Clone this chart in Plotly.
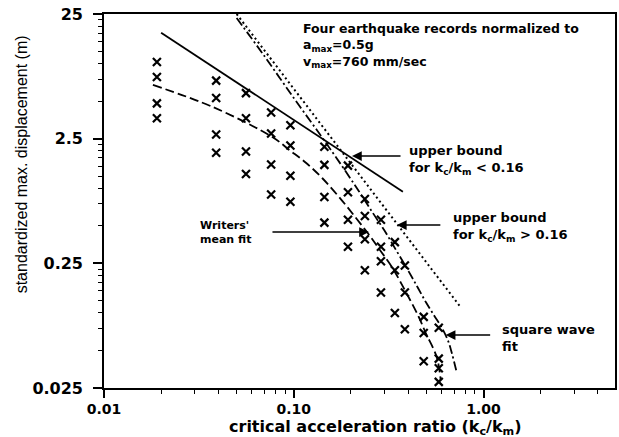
import numpy as np
import plotly.graph_objects as go

# Newmark sliding-block results: critical acceleration ratio vs. standardized max. displacement
ratio = [0.019, 0.019, 0.019, 0.019,
         0.039, 0.039, 0.039, 0.039,
         0.056, 0.056, 0.056, 0.056,
         0.076, 0.076, 0.076, 0.076,
         0.096, 0.096, 0.096, 0.096,
         0.145, 0.145, 0.145, 0.145,
         0.193, 0.193, 0.193, 0.193,
         0.237, 0.237, 0.237, 0.237,
         0.288, 0.288, 0.288, 0.288,
         0.341, 0.341, 0.341,
         0.385, 0.385, 0.385,
         0.484, 0.484, 0.484,
         0.581, 0.581, 0.581, 0.581]
disp = [10.3, 7.8, 4.8, 3.65,
        7.3, 5.3, 2.7, 1.93,
        5.8, 3.65, 1.97, 1.30,
        4.05, 2.75, 1.55, 0.89,
        3.2, 2.2, 1.26, 0.78,
        2.15, 1.54, 0.85, 0.53,
        1.52, 0.93, 0.56, 0.34,
        0.82, 0.60, 0.39, 0.22,
        0.56, 0.34, 0.26, 0.146,
        0.37, 0.22, 0.10,
        0.24, 0.146, 0.074,
        0.093, 0.069, 0.041,
        0.076, 0.043, 0.036, 0.028]

# upper bound for kc/km < 0.16 (solid)
ub_low_x = [0.02, 0.376]
ub_low_y = [17.7, 0.94]

# upper bound for kc/km > 0.16 (dotted)
ub_high_x = [0.05, 0.755]
ub_high_y = [25.0, 0.112]

# square wave fit (dash-dot)
sq_x = [0.050, 0.07, 0.10, 0.14, 0.18, 0.22, 0.26, 0.30, 0.35, 0.40, 0.45, 0.50, 0.55, 0.60, 0.65, 0.68, 0.72]
sq_y = [23.2, 11.5, 5.3, 2.6, 1.5, 0.95, 0.64, 0.46, 0.31, 0.22, 0.16, 0.12, 0.095, 0.077, 0.06, 0.048, 0.034]

# writers' mean fit (long dash)
mf_x = [0.0181, 0.0374, 0.0771, 0.0947, 0.1163, 0.1411, 0.1733, 0.2128, 0.2521, 0.2844, 0.329, 0.3897, 0.4559, 0.496, 0.5666, 0.5946]
mf_y = [6.74, 4.49, 2.58, 2.03, 1.595, 1.209, 0.851, 0.5775, 0.4142, 0.3198, 0.2336, 0.1472, 0.0928, 0.069, 0.0443, 0.029]

x_ticks = [0.01, 0.1, 1.0]
x_tick_text = ["0.01", "0.10", "1.00"]
y_ticks = [0.025, 0.25, 2.5, 25]
y_tick_text = ["0.025", "0.25", "2.5", "25"]

x_minor = [d * k for d in (0.01, 0.1, 1.0) for k in range(2, 10) if d * k < 4.9]
y_minor = [d * k for d in (0.025, 0.25, 2.5) for k in range(2, 10)]

FONT = "DejaVu Sans"
INK = "black"

fig = go.Figure()

fig.add_trace(go.Scatter(x=ub_low_x, y=ub_low_y, mode="lines",
                         line=dict(color=INK, width=1.8), showlegend=False))
fig.add_trace(go.Scatter(x=ub_high_x, y=ub_high_y, mode="lines",
                         line=dict(color=INK, width=2, dash="2px,3px"), showlegend=False))
fig.add_trace(go.Scatter(x=sq_x, y=sq_y, mode="lines", line_shape="spline",
                         line=dict(color=INK, width=1.8, dash="9px,3px,2px,3px"), showlegend=False))
fig.add_trace(go.Scatter(x=mf_x, y=mf_y, mode="lines", line_shape="spline",
                         line=dict(color=INK, width=1.8, dash="9px,4px"), showlegend=False))
fig.add_trace(go.Scatter(x=ratio, y=disp, mode="markers",
                         marker=dict(symbol="x-thin", size=8, line=dict(color=INK, width=2.2)),
                         showlegend=False))

fig.update_xaxes(type="log", range=[-2, np.log10(4.93)],
                 tickmode="array", tickvals=x_ticks, ticktext=x_tick_text,
                 ticks="outside", ticklen=8, tickwidth=1.5, tickcolor=INK,
                 minor=dict(tickvals=x_minor, ticks="outside", ticklen=4, tickwidth=1.2, tickcolor=INK),
                 tickfont=dict(family=FONT, size=14, color=INK, weight="bold"),
                 ticklabelstandoff=-1,
                 showline=True, linecolor=INK, linewidth=1.6, mirror=True,
                 showgrid=False, zeroline=False)
fig.update_yaxes(type="log", range=[np.log10(0.025), np.log10(25)],
                 tickmode="array", tickvals=y_ticks, ticktext=y_tick_text,
                 ticks="outside", ticklen=9, tickwidth=1.5, tickcolor=INK,
                 minor=dict(tickvals=y_minor, ticks="outside", ticklen=4, tickwidth=1.2, tickcolor=INK),
                 tickfont=dict(family=FONT, size=16, color=INK, weight="bold"),
                 ticklabelstandoff=7,
                 showline=True, linecolor=INK, linewidth=1.6, mirror=True,
                 showgrid=False, zeroline=False)

W0, W1, T0, B0 = 104, 617, 14, 388


def px(xp, yp):
    return (xp - W0) / (W1 - W0), (B0 - yp) / (B0 - T0)


def label(text, xp, yp, size=13, anchor="left", font=FONT, bold=True, angle=0):
    x, y = px(xp, yp)
    fig.add_annotation(text=text, x=x, y=y, xref="paper", yref="paper",
                       xanchor=anchor, yanchor="middle", align="left",
                       showarrow=False, textangle=angle,
                       font=dict(family=font, size=size, color=INK,
                                 weight="bold" if bold else "normal"))


def arrow(tip_xp, tip_yp, tail_xp, tail_yp):
    x, y = px(tip_xp, tip_yp)
    fig.add_annotation(text="", x=x, y=y, xref="paper", yref="paper",
                       ax=tail_xp - tip_xp, ay=tail_yp - tip_yp, axref="pixel", ayref="pixel",
                       showarrow=True, arrowhead=2, arrowsize=1.3, arrowwidth=1.5,
                       arrowcolor=INK, standoff=0, startstandoff=0)


label("Four earthquake records normalized to<br>"
      "a<sub>max</sub>=0.5g<br>"
      "v<sub>max</sub>=760 mm/sec", 302, 45, size=12.5)

label("upper bound<br>for k<sub>c</sub>/k<sub>m</sub> &lt; 0.16", 408, 160)
arrow(353, 156, 403, 156)

label("upper bound<br>for k<sub>c</sub>/k<sub>m</sub> &gt; 0.16", 452, 227)
arrow(398, 225, 443, 225)

label("Writers'<br>mean fit", 198, 232, size=11)
arrow(370, 232, 272, 232)

label("square wave<br>fit", 502, 338)
arrow(447, 335, 493, 335)

label("critical acceleration ratio (k<sub>c</sub>/k<sub>m</sub>)", 377, 427, size=16, anchor="center")
label("standardized max. displacement (m)", 21, 164, size=16, anchor="center",
      font="Liberation Sans", bold=False, angle=-90)

fig.update_layout(width=619, height=437,
                  margin=dict(l=W0, r=619 - W1, t=T0, b=437 - B0),
                  paper_bgcolor="white", plot_bgcolor="white")

fig.write_html("out.html")
